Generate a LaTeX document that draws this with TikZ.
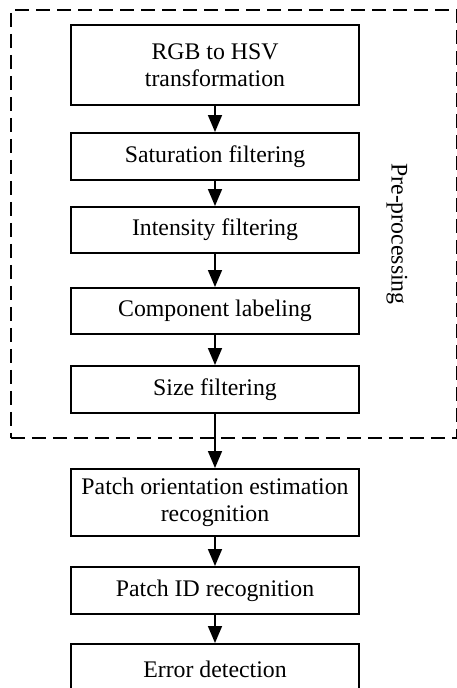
\documentclass[tikz,border=0pt]{standalone}
\usepackage{fontspec}
\setmainfont{Liberation Serif}
\usetikzlibrary{arrows.meta}
\begin{document}
\begin{tikzpicture}[x=1pt,y=-1pt,
  stepbox/.style={draw, line width=1.9pt, minimum width=288pt, inner sep=0pt,
    align=center, font=\fontsize{23.8}{27}\selectfont, anchor=north},
  flow/.style={line width=1.6pt, -{Triangle[length=17pt,width=14pt]}},
  frame/.style={draw, line width=1.7pt, dash pattern=on 14pt off 7pt, anchor=north west,
    inner sep=0pt}]
\useasboundingbox (0,0) rectangle (457,688);
\clip (0,0) rectangle (457,688);
\node[frame, minimum width=446pt, minimum height=428pt] (pre) at (10,9) {};
\node[rotate=-90, font=\fontsize{23.8}{27}\selectfont] (prelabel) at (397,234) {Pre-processing};
\node[stepbox, minimum height=80pt] (rgb) at (215,24) {RGB to HSV\\transformation};
\node[stepbox, minimum height=47pt] (sat) at (215,132) {Saturation filtering};
\node[stepbox, minimum height=46pt] (int) at (215,206) {Intensity filtering};
\node[stepbox, minimum height=46pt] (comp) at (215,287) {Component labeling};
\node[stepbox, minimum height=47pt] (size) at (215,365) {Size filtering};
\node[stepbox, minimum height=67pt] (orient) at (215,468) {Patch orientation estimation\\recognition};
\node[stepbox, minimum height=47pt] (pid) at (215,566) {Patch ID recognition};
\node[stepbox, minimum height=50pt] (err) at (215,643) {Error detection};
\draw[flow] (rgb.south) -- (sat.north);
\draw[flow] (sat.south) -- (int.north);
\draw[flow] (int.south) -- (comp.north);
\draw[flow] (comp.south) -- (size.north);
\draw[flow] (size.south) -- (orient.north);
\draw[flow] (orient.south) -- (pid.north);
\draw[flow] (pid.south) -- (err.north);
\end{tikzpicture}
\end{document}
